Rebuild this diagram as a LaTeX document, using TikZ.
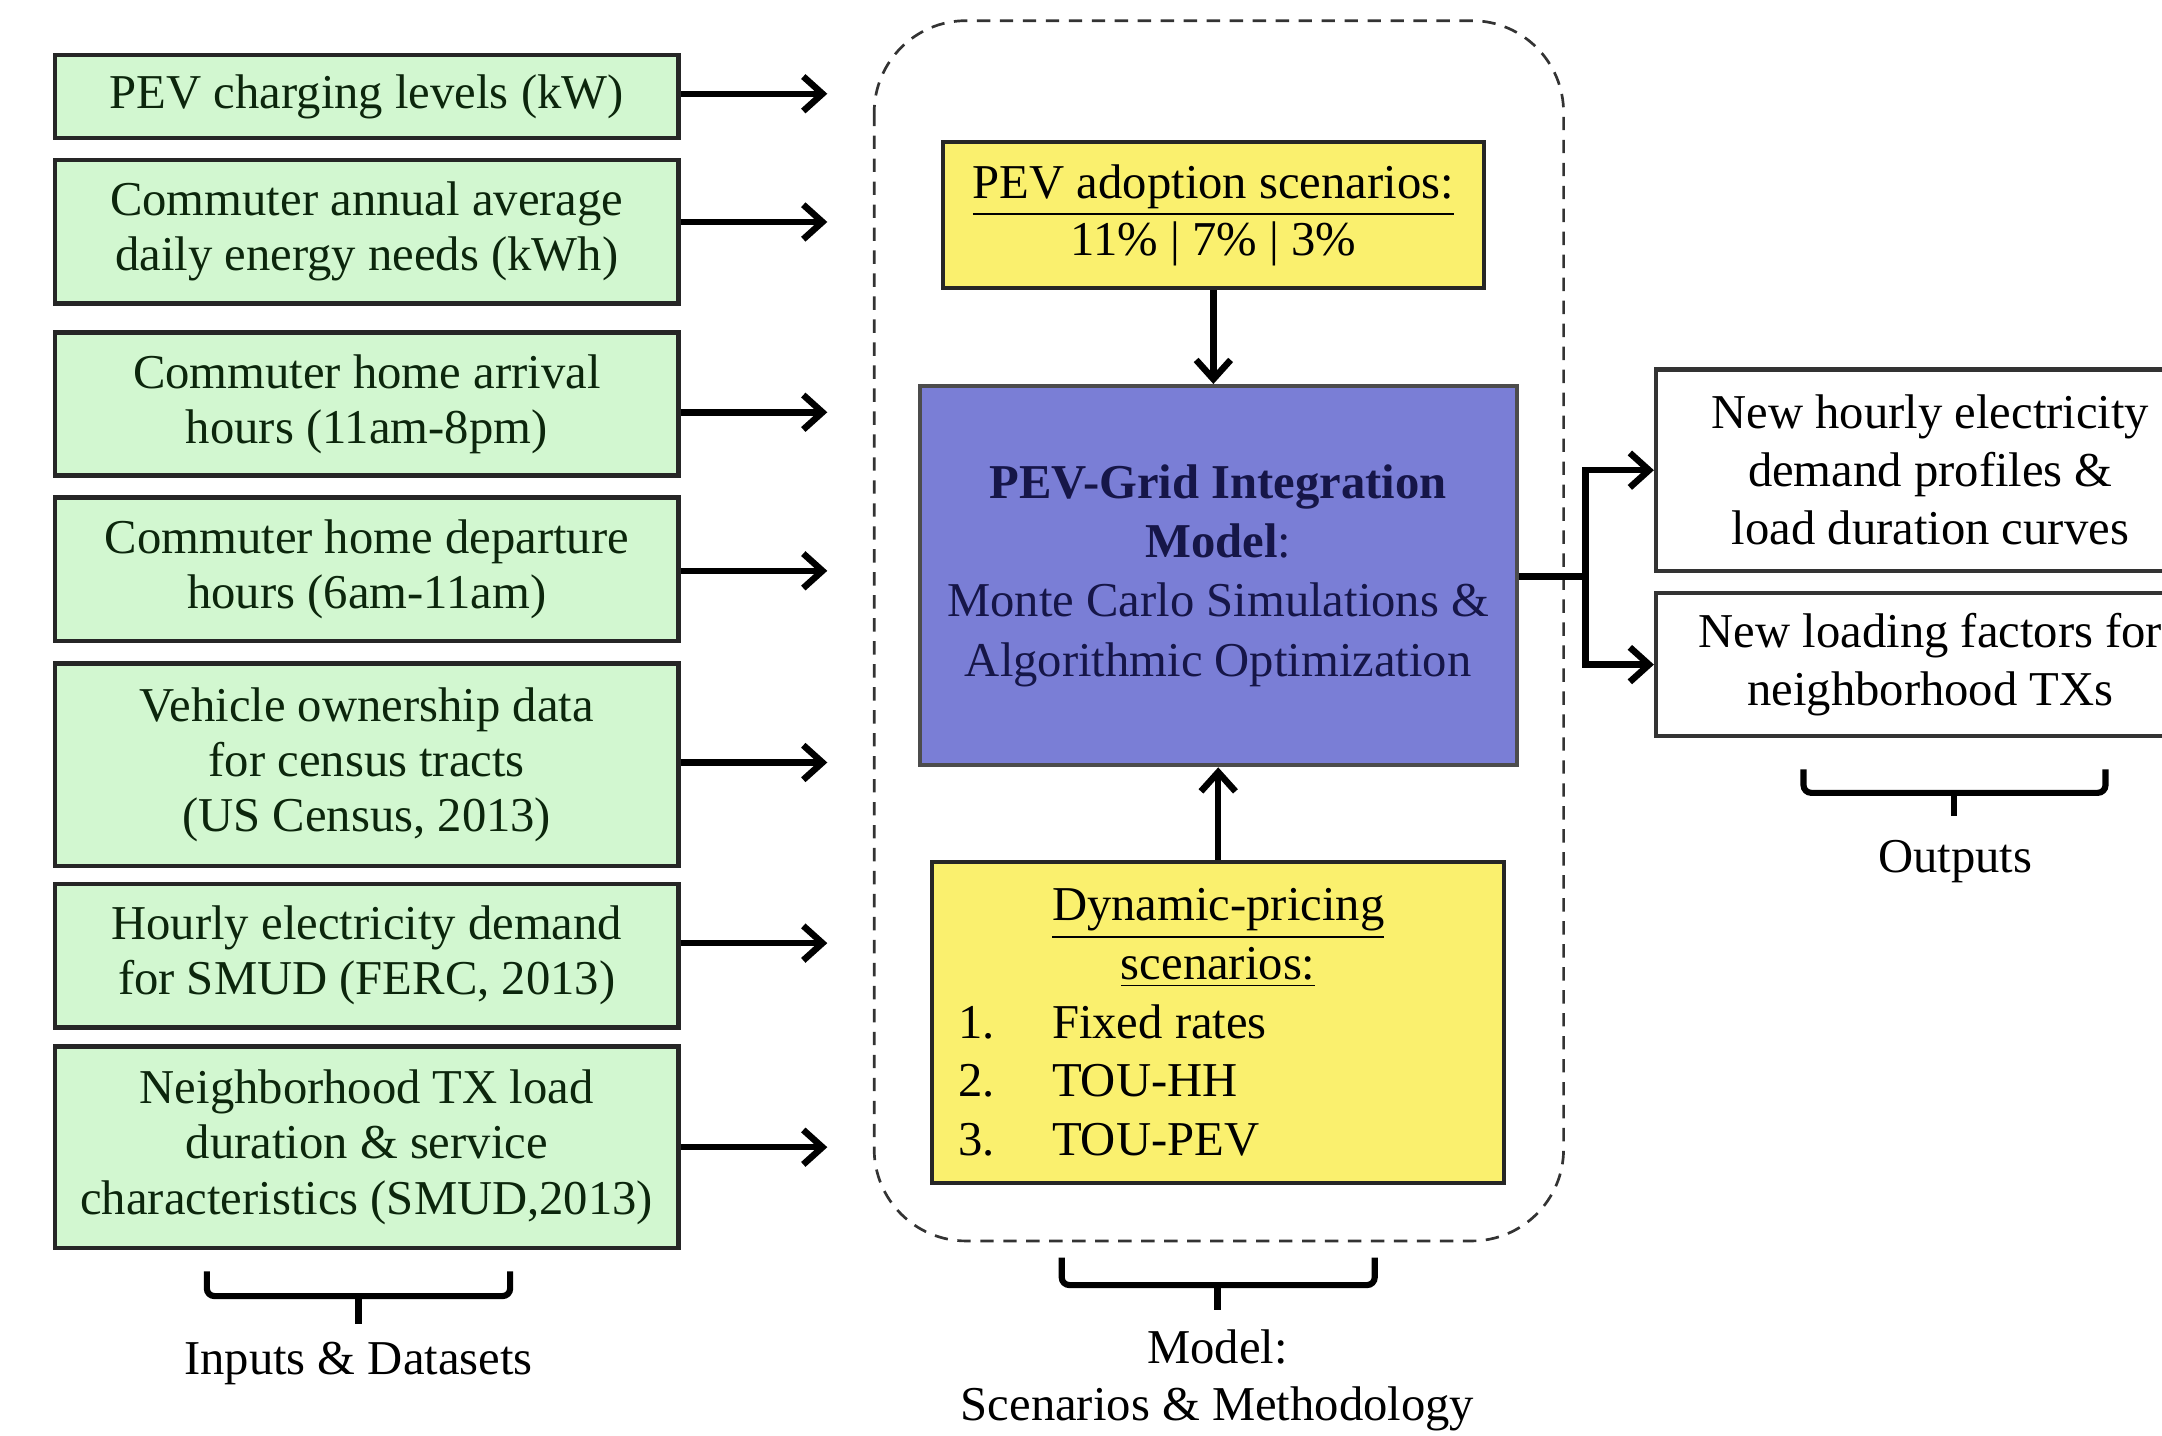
\documentclass[tikz,border=0pt]{standalone}
\usepackage{fontspec}
\setmainfont{Liberation Serif}
\usetikzlibrary{arrows.meta}
\definecolor{ingreen}{RGB}{210,247,208}
\definecolor{scyellow}{RGB}{250,240,110}
\definecolor{modblue}{RGB}{122,126,214}
\definecolor{navy}{RGB}{22,22,72}
\definecolor{dkgreen}{RGB}{12,38,12}
\begin{document}
\begin{tikzpicture}[x=0.36pt,y=-0.36pt,
  inbox/.style={draw=black!85,line width=1.2pt,fill=ingreen,text=dkgreen,align=center,inner sep=0pt,
    minimum width=162.72pt,font=\fontsize{12.7}{14.4}\selectfont},
  scbox/.style={draw=black!85,line width=1.1pt,fill=scyellow,align=center,inner sep=0pt,font=\fontsize{12.7}{14.8}\selectfont},
  outbox/.style={draw=black!80,line width=1.1pt,fill=white,align=center,inner sep=0pt,
    minimum width=143.28pt,font=\fontsize{12.7}{15.1}\selectfont},
  arr/.style={line width=1.7pt,-{Straight Barb[length=5pt,width=9pt]}},
  brace/.style={line width=1.6pt,rounded corners=2pt},
  lbl/.style={align=center,font=\fontsize{12.7}{14.8}\selectfont}]
\useasboundingbox (0,0) rectangle (1568,1041);
\clip (0,0) rectangle (1568,1041);
% dashed container
\draw[gray!40!black,line width=0.7pt,dash pattern=on 3.5pt off 2.5pt,rounded corners=24pt]
  (634,15) rectangle (1134,900);
% input boxes
\node[inbox,minimum height=21.6pt] (b1) at (266,70) {PEV charging levels (kW)};
\node[inbox,minimum height=37.44pt] (b2) at (266,168) {Commuter annual average\\daily energy needs (kWh)};
\node[inbox,minimum height=37.44pt] (b3) at (266,293) {Commuter home arrival\\hours (11am-8pm)};
\node[inbox,minimum height=37.44pt] (b4) at (266,413) {Commuter home departure\\hours (6am-11am)};
\node[inbox,minimum height=52.92pt] (b5) at (266,554.5) {Vehicle ownership data\\for census tracts\\(US Census, 2013)};
\node[inbox,minimum height=37.44pt] (b6) at (266,693) {Hourly electricity demand\\for SMUD (FERC, 2013)};
\node[inbox,minimum height=52.56pt] (b7) at (266,832) {Neighborhood TX load\\duration \& service\\characteristics (SMUD,2013)};
% arrow ends
\coordinate (t1) at (600,68);
\coordinate (t2) at (600,161);
\coordinate (t3) at (600,299);
\coordinate (t4) at (600,414);
\coordinate (t5) at (600,553);
\coordinate (t6) at (600,684);
\coordinate (t7) at (600,832);
\foreach \i in {1,...,7}{\draw[arr] (t\i -| b\i.east) -- (t\i);}
% model boxes
\node[scbox,minimum width=141.12pt,minimum height=38.16pt] (adopt) at (880,156)
  {\underline{PEV adoption scenarios:}\\11\% | 7\% | 3\%};
\node[draw=black!70,line width=1.1pt,fill=modblue,text=navy,align=center,inner sep=0pt,
  minimum width=155.88pt,minimum height=99pt,font=\fontsize{12.7}{15.5}\selectfont] (model) at (883.5,417.5)
  {\textbf{PEV-Grid Integration}\\\textbf{Model}:\\Monte Carlo Simulations \&\\Algorithmic Optimization};
\node[scbox,minimum width=149.4pt,minimum height=83.88pt,font=\fontsize{12.7}{15.3}\selectfont] (dyn) at (883.5,741.5)
  {\underline{Dynamic-pricing}\\\underline{scenarios:}\\
   \makebox[135.72pt][l]{\makebox[24.48pt][l]{1.}Fixed rates}\\
   \makebox[135.72pt][l]{\makebox[24.48pt][l]{2.}TOU-HH}\\
   \makebox[135.72pt][l]{\makebox[24.48pt][l]{3.}TOU-PEV}};
\draw[arr] (adopt.south) -- (adopt.south |- model.north);
\draw[arr] (dyn.north) -- (dyn.north |- model.south);
% outputs
\node[outbox,minimum height=52.56pt] (o1) at (1400,341) {New hourly electricity\\demand profiles \&\\load duration curves};
\node[outbox,minimum height=37.44pt] (o2) at (1400,482) {New loading factors for\\neighborhood TXs};
\coordinate (j) at (1150,418);
\draw[line width=1.7pt] (j -| model.east) -- (j);
\draw[arr] (j) |- (o1.west);
\draw[arr] (j) |- (o2.west);
% braces
\draw[brace] (150,922) -- (150,940) -- (370,940) -- (370,922);
\draw[brace] (260,940) -- (260,960);
\node[lbl] (lin) at (260,989) {Inputs \& Datasets};
\draw[brace] (770,912) -- (770,932) -- (997,932) -- (997,912);
\draw[brace] (883,932) -- (883,950);
\node[lbl,font=\fontsize{12.7}{15}\selectfont] (lmod) at (883,1001) {Model:\\Scenarios \& Methodology};
\draw[brace] (1308,558) -- (1308,575) -- (1527,575) -- (1527,558);
\draw[brace] (1417,575) -- (1417,592);
\node[lbl] (lout) at (1418,625) {Outputs};
\end{tikzpicture}
\end{document}
